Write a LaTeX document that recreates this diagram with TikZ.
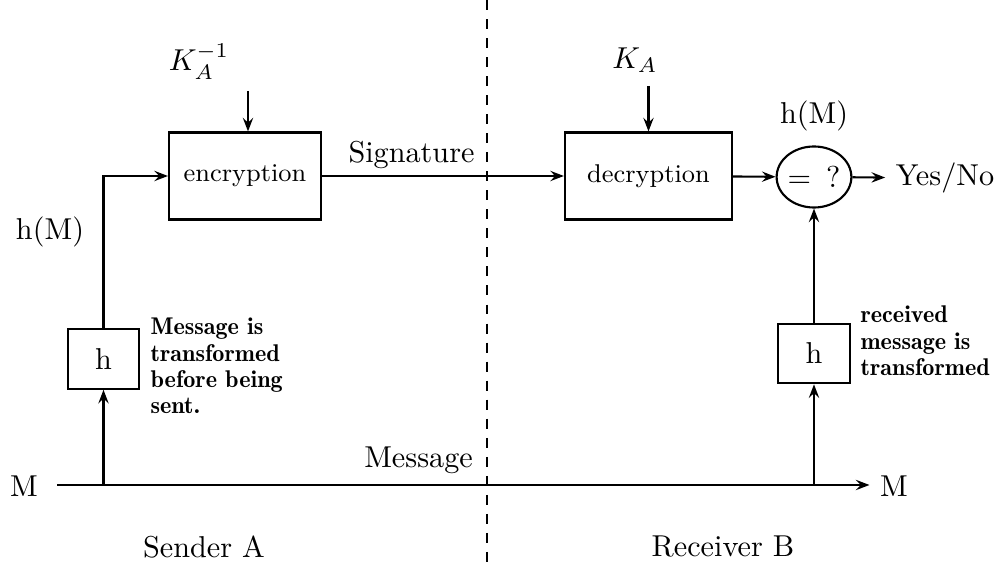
\documentclass[tikz,border=0pt]{standalone}
\usetikzlibrary{arrows.meta,shapes.geometric}

\tikzset{
    block/.style = {draw, line width=0.7pt, minimum width=#1, minimum height=28.8pt,
                    inner sep=0pt, font=\fontsize{8.5}{10}\selectfont},
    hbox/.style  = {draw, line width=0.7pt, minimum width=23.6pt, minimum height=19.7pt},
    test/.style  = {draw, ellipse, line width=0.7pt, minimum width=23.8pt,
                    minimum height=20.2pt, inner sep=0pt},
    note/.style  = {align=left, inner sep=0pt, font=\fontsize{8}{8.75}\fontseries{b}\selectfont},
    flow/.style  = {line width=0.7pt, -{Stealth[length=4.5pt, width=3.4pt, inset=1.6pt]}},
}

\begin{document}
\begin{tikzpicture}[x = 0.331pt, y = -0.331pt]
    \useasboundingbox (0,0) rectangle (998,564);

    % sender A
    \node[block=50.3pt] (enc) at (245,176) {encryption};
    \node (kpriv) at (199,62) {$K_A^{-1}$};
    \coordinate (kencin) at (248,91);
    \node[hbox] (hA) at (103.5,359) {h};
    \node (hmA) at (50,232) {h(M)};
    \node[note, anchor=west] (noteA) at (150,366) {Message is\\transformed\\before being\\sent.};

    % receiver B
    \node[block=55.3pt] (dec) at (648.5,176) {decryption};
    \node (kpub) at (635,60) {$K_A$};
    \coordinate (kdecin) at (648.5,86);
    \node[test] (cmp) at (814,177) {$=$\, ?};
    \node (hmB) at (814,116) {h(M)};
    \node (yn) at (945,178) {Yes/No};
    \node[hbox] (hB) at (814,353.5) {h};
    \node[note, anchor=west] (noteB) at (860,341) {received\\message is\\transformed};

    % message line
    \node (Ml) at (24,486) {M};
    \node (Mr) at (894,486) {M};
    \coordinate (m0) at (57,485);
    \draw[flow] (m0) -- node[above, pos=0.445] {Message} (Mr.west |- m0);

    % connections
    \draw[flow] (hA.south |- m0) -- (hA);
    \draw[flow] (hA) |- (enc);
    \draw[flow] (kencin) -- (kencin |- enc.north);
    \draw[flow] (enc) -- node[above, pos=0.37, inner sep=2pt] {Signature} (dec);
    \draw[flow] (kdecin) -- (kdecin |- dec.north);
    \draw[flow] (dec) -- (cmp);
    \draw[flow] (cmp) -- (yn);
    \draw[flow] (hB.south |- m0) -- (hB);
    \draw[flow] (hB) -- (cmp);

    % sender / receiver split
    \draw[line width=0.9pt, dash pattern=on 3.3pt off 3pt] (487,0) -- (487,564);
    \node (snd) at (204,547) {Sender A};
    \node (rcv) at (723,547) {Receiver B};
\end{tikzpicture}
\end{document}
